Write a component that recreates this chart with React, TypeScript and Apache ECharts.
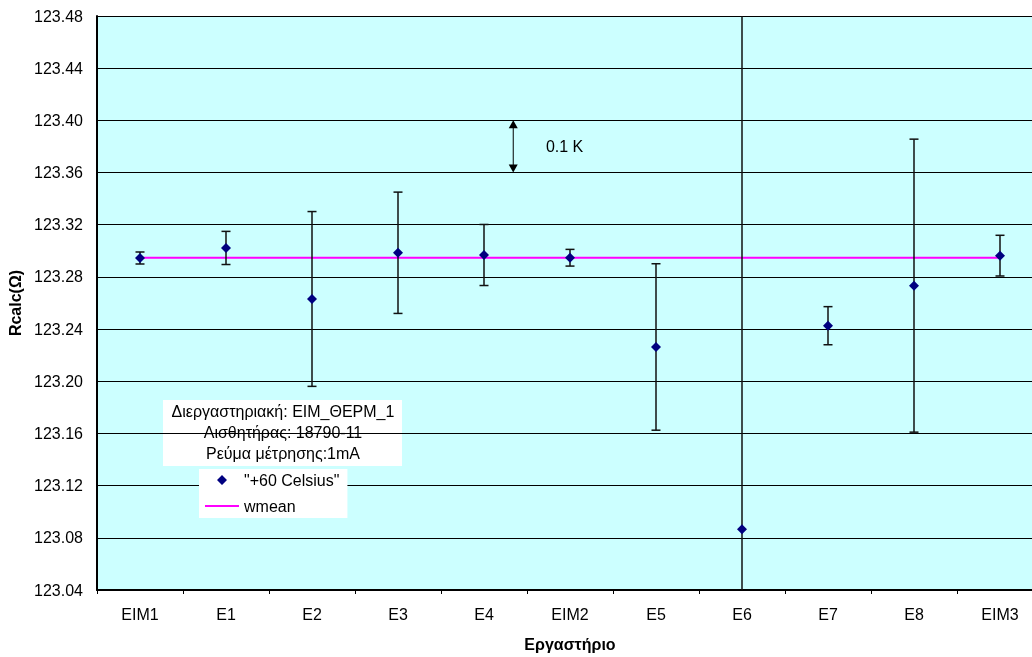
import { useEffect, useRef } from 'react';
import * as echarts from 'echarts';

const categories = ['ΕΙΜ1', 'Ε1', 'Ε2', 'Ε3', 'Ε4', 'ΕΙΜ2', 'Ε5', 'Ε6', 'Ε7', 'Ε8', 'ΕΙΜ3'];
const values = [123.2945, 123.3022, 123.2631, 123.2985, 123.2968, 123.2947, 123.2263, 123.0865, 123.2426, 123.2733, 123.2963];
const errors = [0.0046, 0.0127, 0.067, 0.0465, 0.0234, 0.0064, 0.0638, 0.42, 0.0146, 0.1123, 0.0156];
const wmean = 123.2947;
const seriesName = '"+60 Celsius"';
const meanName = 'wmean';
const yMin = 123.04;
const yMax = 123.48;
const yStep = 0.04;
const arrowX = 4.34;
const arrowTop = 123.4;
const arrowBottom = 123.36;
const arrowLabel = '0.1 K';
const arrowLabelX = 4.72;
const noteLines = ['Διεργαστηριακή: ΕΙΜ_ΘΕΡΜ_1', 'Αισθητήρας: 18790-11', 'Ρεύμα μέτρησης:1mA'];

export default function App() {
  const ref = useRef<HTMLDivElement>(null);
  useEffect(() => {
    const chart = echarts.init(ref.current!, null, { renderer: 'svg' });
    const font = 'Liberation Sans, Arial, sans-serif';
    const fs = 16;
    const errData = categories.map((_, i) => [i, values[i] - errors[i], values[i] + errors[i]]);
    const diamondIcon = 'path://M0,0h0.01v0.01h-0.01zM17,0L22,5L17,10L12,5zM33.99,9.99h0.01v0.01h-0.01z';
    const lineIcon = 'path://M0,0h0.01v0.01h-0.01zM0,4.1h34v1.8h-34zM33.99,9.99h0.01v0.01h-0.01z';
    chart.setOption({
      animation: false,
      textStyle: { fontFamily: font },
      grid: { left: 97, top: 16, width: 946, bottom: 67, show: true, backgroundColor: '#CCFFFF', borderWidth: 0, outerBoundsMode: 'none', containLabel: false },
      xAxis: [
        {
          type: 'category',
          data: categories,
          boundaryGap: true,
          axisLine: { onZero: false, lineStyle: { color: '#000', width: 2 } },
          axisTick: { show: true, length: 4, lineStyle: { color: '#000' } },
          axisLabel: { color: '#000', fontSize: fs, fontFamily: font, margin: 16 },
          splitLine: { show: false },
          name: 'Εργαστήριο',
          nameLocation: 'middle',
          nameGap: 46,
          nameTextStyle: { color: '#000', fontSize: fs, fontWeight: 'bold', fontFamily: font },
        },
        { type: 'value', min: -0.5, max: 10.5, show: false },
      ],
      yAxis: {
        type: 'value',
        min: yMin,
        max: yMax,
        interval: yStep,
        axisLine: { show: true, onZero: false, lineStyle: { color: '#000', width: 2 } },
        axisTick: { show: false },
        axisLabel: { color: '#000', fontSize: fs, fontFamily: font, margin: 14, formatter: (v: number) => v.toFixed(2) },
        splitLine: { show: true, lineStyle: { color: '#000', width: 1 } },
        name: 'Rcalc(Ω)',
        nameLocation: 'middle',
        nameGap: 74,
        nameTextStyle: { color: '#000', fontSize: fs, fontWeight: 'bold', fontFamily: font },
      },
      legend: {
        data: [
          { name: seriesName, icon: diamondIcon },
          { name: meanName, icon: lineIcon },
        ],
        orient: 'vertical',
        left: 199,
        top: 469,
        backgroundColor: '#fff',
        borderWidth: 0,
        borderRadius: 0,
        padding: [3, 8, 4, 6],
        itemGap: 10,
        itemWidth: 34,
        itemHeight: 10,
        textStyle: { color: '#000', fontSize: fs, fontFamily: font },
      },
      graphic: [
        {
          type: 'group',
          children: [
            { type: 'rect', shape: { x: 163, y: 400, width: 239, height: 66 }, style: { fill: '#fff' } },
            {
              type: 'text',
              x: 283,
              y: 401,
              style: { text: noteLines.join('\n'), fill: '#000', font: fs + 'px ' + font, align: 'center', verticalAlign: 'top', lineHeight: 21 },
            },
          ],
        },
      ],
      series: [
        {
          name: meanName,
          type: 'line',
          data: categories.map(() => wmean),
          symbol: 'none',
          lineStyle: { color: '#FF00FF', width: 2 },
          itemStyle: { color: '#FF00FF' },
          z: 2,
        },
        {
          name: 'err',
          type: 'custom',
          data: errData,
          z: 3,
          renderItem: (params: any, api: any) => {
            const cs = params.coordSys;
            const i = api.value(0);
            const lo = api.coord([i, api.value(1)]);
            const hi = api.coord([i, api.value(2)]);
            const x = lo[0];
            const top = Math.max(hi[1], cs.y);
            const bottom = Math.min(lo[1], cs.y + cs.height);
            const children: any[] = [
              { type: 'line', shape: { x1: x, y1: top, x2: x, y2: bottom }, style: { stroke: '#111', lineWidth: 1.5 } },
            ];
            if (hi[1] >= cs.y) children.push({ type: 'line', shape: { x1: x - 4.5, y1: hi[1], x2: x + 4.5, y2: hi[1] }, style: { stroke: '#111', lineWidth: 1.5 } });
            if (lo[1] <= cs.y + cs.height) children.push({ type: 'line', shape: { x1: x - 4.5, y1: lo[1], x2: x + 4.5, y2: lo[1] }, style: { stroke: '#111', lineWidth: 1.5 } });
            return { type: 'group', children };
          },
        },
        {
          name: seriesName,
          type: 'scatter',
          data: values,
          symbol: 'diamond',
          symbolSize: 10,
          itemStyle: { color: '#000080', opacity: 1 },
          z: 4,
        },
        {
          name: 'arrow',
          type: 'custom',
          xAxisIndex: 1,
          data: [[arrowX, arrowTop, arrowBottom, arrowLabelX]],
          z: 5,
          renderItem: (_params: any, api: any) => {
            const p1 = api.coord([api.value(0), api.value(1)]);
            const p2 = api.coord([api.value(0), api.value(2)]);
            const lp = api.coord([api.value(3), (api.value(1) + api.value(2)) / 2]);
            const x = p1[0];
            return {
              type: 'group',
              children: [
                { type: 'line', shape: { x1: x, y1: p1[1] + 6, x2: x, y2: p2[1] - 6 }, style: { stroke: '#000', lineWidth: 1 } },
                { type: 'polygon', shape: { points: [[x, p1[1]], [x - 4.5, p1[1] + 8], [x + 4.5, p1[1] + 8]] }, style: { fill: '#000' } },
                { type: 'polygon', shape: { points: [[x, p2[1]], [x - 4.5, p2[1] - 8], [x + 4.5, p2[1] - 8]] }, style: { fill: '#000' } },
                { type: 'text', x: lp[0], y: lp[1], style: { text: arrowLabel, fill: '#000', font: fs + 'px ' + font, align: 'left', verticalAlign: 'middle' } },
              ],
            };
          },
        },
      ],
    });
    return () => chart.dispose();
  }, []);
  return <div ref={ref} style={{ position: 'fixed', left: 0, top: 0, width: 1032, height: 657 }} />;
}
